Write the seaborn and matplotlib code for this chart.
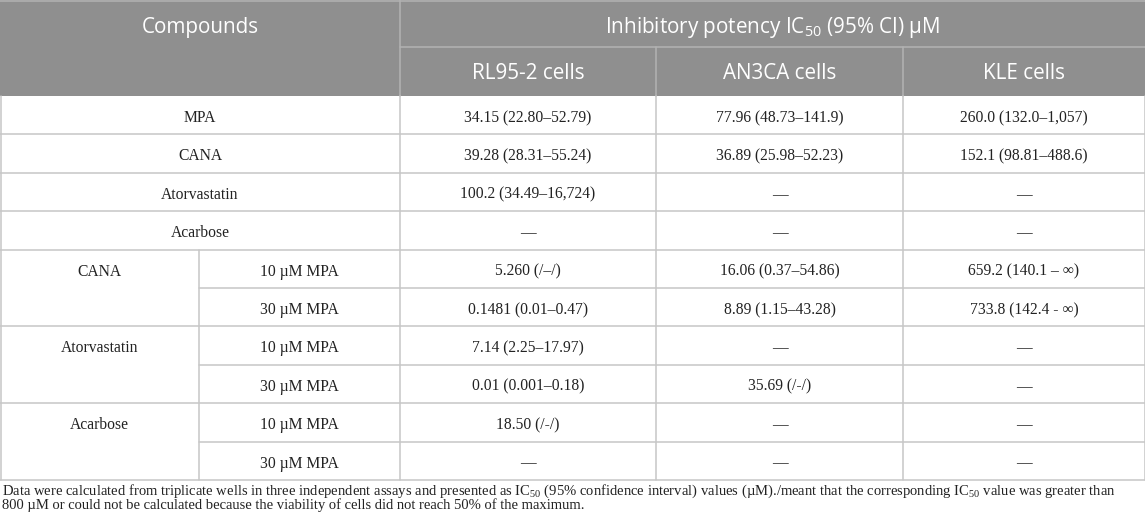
import numpy as np
import pandas as pd
import matplotlib
matplotlib.use("Agg")
import matplotlib.pyplot as plt
from matplotlib.patches import Rectangle
import seaborn as sns

# table content
cell_lines = ["RL95-2 cells", "AN3CA cells", "KLE cells"]

single_compounds = ["MPA", "CANA", "Atorvastatin", "Acarbose"]
single_rl95 = ["34.15 (22.80–52.79)", "39.28 (28.31–55.24)", "100.2 (34.49–16,724)", "—"]
single_an3ca = ["77.96 (48.73–141.9)", "36.89 (25.98–52.23)", "—", "—"]
single_kle = ["260.0 (132.0–1,057)", "152.1 (98.81–488.6)", "—", "—"]

combo_compounds = ["CANA", "Atorvastatin", "Acarbose"]
combo_doses = ["10 µM MPA", "30 µM MPA"]
combo_rl95 = ["5.260 (/–/)", "0.1481 (0.01–0.47)", "7.14 (2.25–17.97)",
              "0.01 (0.001–0.18)", "18.50 (/-/)", "—"]
combo_an3ca = ["16.06 (0.37–54.86)", "8.89 (1.15–43.28)", "—",
               "35.69 (/-/)", "—", "—"]
combo_kle = ["659.2 (140.1 – ∞)", "733.8 (142.4 - ∞)", "—", "—", "—", "—"]

footnote = [
    "Data were calculated from triplicate wells in three independent assays and presented as "
    r"$\mathregular{IC_{50}}$ (95% confidence interval) values (µM)./meant that the corresponding "
    r"$\mathregular{IC_{50}}$ value was greater than",
    "800 µM or could not be calculated because the viability of cells did not reach 50% of the maximum.",
]

# rows of the body: (compound label, dose label, values)
rows = []
for i, c in enumerate(single_compounds):
    rows.append({"compound": c, "dose": None,
                 "rl95": single_rl95[i], "an3ca": single_an3ca[i], "kle": single_kle[i]})
for i, c in enumerate(combo_compounds):
    for j, d in enumerate(combo_doses):
        k = i * len(combo_doses) + j
        rows.append({"compound": c if j == 0 else "", "dose": d,
                     "rl95": combo_rl95[k], "an3ca": combo_an3ca[k], "kle": combo_kle[k]})
table = pd.DataFrame(rows)

# layout in pixels
W, H = 1145, 526
col_x = [0, 199, 400, 656, 903, 1145]
head_mid, head_bot = 47, 96
row_h = 38.4
HEAD_FILL = "#8f8f8f"
HEAD_LINE = "#b3b3b3"
GRID = "#c6c6c6"
TEXT = "#222222"
LW = 1.1

sns.set_theme(style="white")
plt.rcParams["font.family"] = ["Liberation Serif", "DejaVu Serif"]

fig = plt.figure(figsize=(W / 100, H / 100), dpi=100)
ax = fig.add_axes([0, 0, 1, 1])
ax.set_xlim(0, W)
ax.set_ylim(H, 0)
ax.axis("off")
renderer = fig.canvas.get_renderer()


def fit_size(text, family, target):
    t = ax.text(0, 0, text, fontsize=10, family=family)
    w = t.get_window_extent(renderer).width
    t.remove()
    return 10 * target / w


head_font = ["Open Sans", "DejaVu Sans"]
body_font = ["Liberation Serif", "DejaVu Serif"]
head_size = fit_size("Compounds", head_font, 117)
body_size = fit_size("34.15 (22.80–52.79)", body_font, 127)
foot_size = fit_size(footnote[0], body_font, 1116)

# header background and lines
ax.add_patch(Rectangle((0, 0), W, head_bot, color=HEAD_FILL, lw=0))
ax.plot([0, W], [0.5, 0.5], color=HEAD_LINE, lw=LW)
ax.plot([col_x[2], col_x[2]], [0, head_bot], color=HEAD_LINE, lw=LW)
ax.plot([col_x[2], W], [head_mid, head_mid], color=HEAD_LINE, lw=LW)
for x in col_x[3:5]:
    ax.plot([x, x], [head_mid, head_bot], color=HEAD_LINE, lw=LW)

ax.text((col_x[0] + col_x[2]) / 2, 33, "Compounds", family=head_font, size=head_size,
        color="white", ha="center", va="baseline")
ax.text((col_x[2] + col_x[5]) / 2, 33, r"Inhibitory potency $\mathregular{IC_{50}}$ (95% CI) µM",
        family=head_font, size=head_size, color="white", ha="center", va="baseline")
for k, name in enumerate(cell_lines):
    ax.text((col_x[2 + k] + col_x[3 + k]) / 2, 79, name, family=head_font, size=head_size,
            color="white", ha="center", va="baseline")

# body grid
n = len(table)
bottom = head_bot + n * row_h
for x in [0.5, col_x[2], col_x[3], col_x[4], W - 0.5]:
    ax.plot([x, x], [head_bot, bottom], color=GRID, lw=LW)
combo_top = head_bot + len(single_compounds) * row_h
ax.plot([col_x[1], col_x[1]], [combo_top, bottom], color=GRID, lw=LW)

for i, r in table.iterrows():
    top = head_bot + i * row_h
    base = top + 26
    # the line under a first dose row stays inside the dose/value columns
    x0 = col_x[1] if r["dose"] == combo_doses[0] else 0
    ax.plot([x0, W], [top + row_h, top + row_h], color=GRID, lw=LW)
    if r["dose"] is None:
        ax.text((col_x[0] + col_x[2]) / 2, base, r["compound"], family=body_font,
                size=body_size, ha="center", va="baseline", color=TEXT)
    else:
        ax.text((col_x[0] + col_x[1]) / 2, base, r["compound"], family=body_font,
                size=body_size, ha="center", va="baseline", color=TEXT)
        ax.text((col_x[1] + col_x[2]) / 2, base, r["dose"], family=body_font,
                size=body_size, ha="center", va="baseline", color=TEXT)
    for k, key in enumerate(["rl95", "an3ca", "kle"]):
        ax.text((col_x[2 + k] + col_x[3 + k]) / 2, base, r[key], family=body_font,
                size=body_size, ha="center", va="baseline", color=TEXT)

# footnote
ax.text(2, 495, footnote[0], family=body_font, size=foot_size, ha="left", va="baseline",
        color=TEXT)
ax.text(2, 509, footnote[1], family=body_font, size=foot_size, ha="left", va="baseline",
        color=TEXT)

fig.savefig("out.png", dpi=100)
